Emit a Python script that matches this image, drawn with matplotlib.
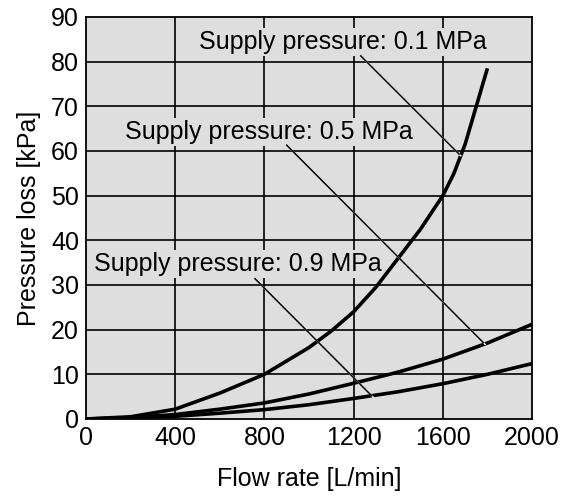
import matplotlib.pyplot as plt
import matplotlib.patheffects as pe

plt.rcParams['font.family'] = ['Liberation Sans', 'DejaVu Sans']

# Pressure loss curves
flow_01 = [0, 200, 400, 600, 800, 1000, 1100, 1200, 1300, 1400, 1500, 1600, 1650, 1700, 1750, 1800]
loss_01 = [0, 0.5, 2.2, 5.8, 10, 16, 19.7, 24, 29.5, 36, 42.5, 50, 55, 61.5, 70, 78.5]

flow_05 = [0, 200, 400, 600, 800, 1000, 1200, 1400, 1600, 1800, 2000]
loss_05 = [0, 0.3, 1.0, 2.2, 3.6, 5.6, 8.0, 10.5, 13.4, 17.0, 21.2]

flow_09 = [0, 200, 400, 600, 800, 1000, 1200, 1400, 1600, 1800, 2000]
loss_09 = [0, 0.2, 0.6, 1.3, 2.1, 3.2, 4.6, 6.1, 7.9, 10.0, 12.4]

labels = ['Supply pressure: 0.1 MPa', 'Supply pressure: 0.5 MPa', 'Supply pressure: 0.9 MPa']
label_pos = [(507, 82.9), (175, 62.7), (36, 33.1)]
leader_start = [(1232, 81.3), (900, 61.3), (758, 31.4)]
leader_end = [(1673, 59.3), (1782, 17.1), (1281, 5.2)]

x_ticks = [0, 400, 800, 1200, 1600, 2000]
y_ticks = [0, 10, 20, 30, 40, 50, 60, 70, 80, 90]

bg = '#dddedd'
fs = 18

fig = plt.figure(figsize=(5.71, 4.97), dpi=100)
ax = fig.add_axes([86 / 571, 78 / 497, 446 / 571, 402 / 497])
ax.set_facecolor(bg)

# grid lines
for xt in x_ticks[1:-1]:
    ax.axvline(xt, color='black', lw=1.2, zorder=1)
for yt in y_ticks[1:-1]:
    ax.axhline(yt, color='black', lw=1.2, zorder=1)

for fx, ly in [(flow_01, loss_01), (flow_05, loss_05), (flow_09, loss_09)]:
    ax.plot(fx, ly, color='black', lw=2.6, solid_capstyle='butt', zorder=4)

# labels with leader lines
for txt, (tx, ty), s, e in zip(labels, label_pos, leader_start, leader_end):
    ax.text(tx, ty, txt, fontsize=fs, va='baseline', ha='left', zorder=3,
            bbox=dict(facecolor=bg, edgecolor='none', pad=1.5))
    ax.plot([s[0], e[0]], [s[1], e[1]], color='black', lw=1.1, zorder=5,
            path_effects=[pe.SimpleLineShadow(offset=(1.2, -1.2), shadow_color='white', alpha=1),
                          pe.Normal()])

ax.set_xlim(0, 2000)
ax.set_ylim(0, 90)
ax.set_xticks(x_ticks)
ax.set_yticks(y_ticks)
ax.tick_params(length=0, labelsize=fs, pad=5)
for sp in ax.spines.values():
    sp.set_linewidth(1.3)

ax.set_xlabel('Flow rate [L/min]', fontsize=fs, labelpad=12)
ax.set_ylabel('Pressure loss [kPa]', fontsize=fs, labelpad=7)

fig.savefig('out.png', dpi=100)
